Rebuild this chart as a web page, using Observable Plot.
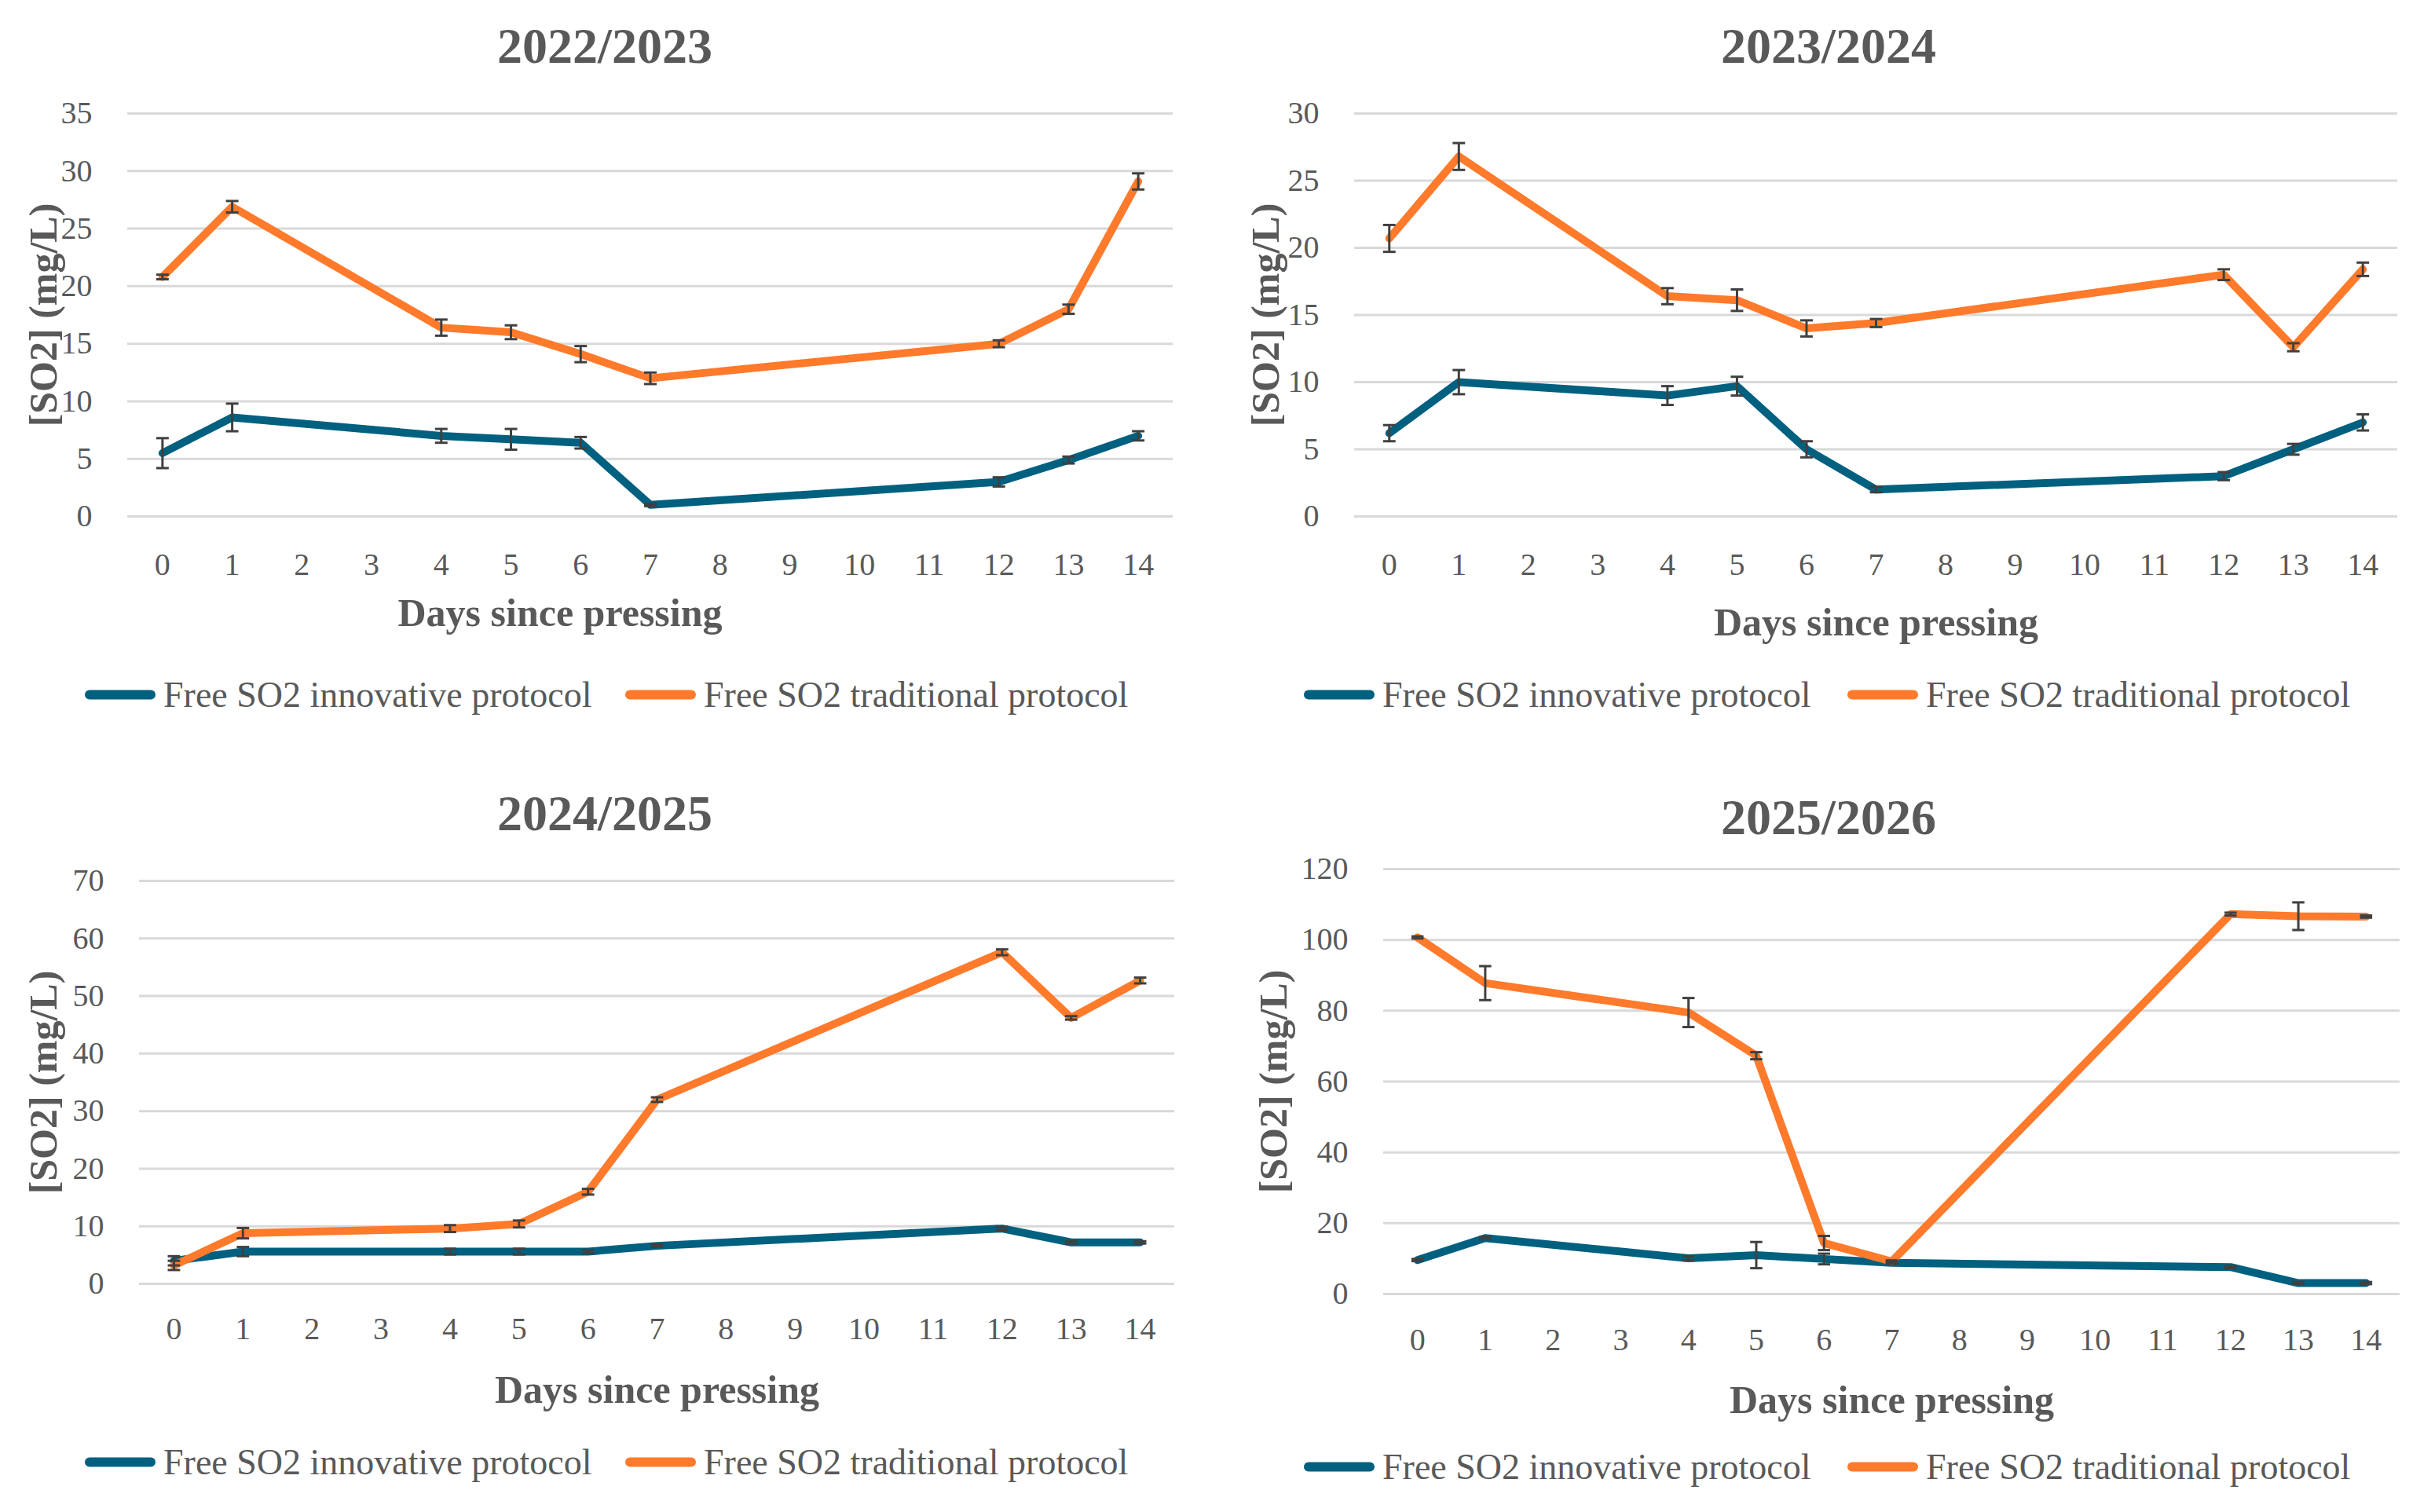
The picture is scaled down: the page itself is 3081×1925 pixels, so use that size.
<!DOCTYPE html>
<html>
<head>
<meta charset="utf-8">
<script src="https://cdn.jsdelivr.net/npm/d3@7"></script>
<script src="https://cdn.jsdelivr.net/npm/@observablehq/plot@0.6"></script>
<style>
  html, body { margin: 0; padding: 0; background: #fff; overflow: hidden; }
  #page { position: relative; width: 3081px; height: 1925px; background: #fff; font-family: "Liberation Serif", "DejaVu Serif", serif; color: #595959; }
  .panel { position: absolute; }
  .panel svg text { font-family: "Liberation Serif", "DejaVu Serif", serif; }
  .title { position: absolute; transform: translate(-50%, -50%); font-size: 64px; font-weight: bold; white-space: nowrap; color: #595959; }
  .leg { position: absolute; display: flex; align-items: center; transform: translateY(-50%); white-space: nowrap; font-size: 46px; color: #595959; }
  .sw { display: inline-block; width: 90px; height: 12px; border-radius: 6px; margin-right: 10px; }
</style>
</head>
<body>
<div id="page"></div>
<script>
// ---------- data ----------
const days = [0, 1, 4, 5, 6, 7, 12, 13, 14];
const dayTicks = [0, 1, 2, 3, 4, 5, 6, 7, 8, 9, 10, 11, 12, 13, 14];
const seasons = ["2022/2023", "2023/2024", "2024/2025", "2025/2026"];
const seriesNames = ["Free SO2 innovative protocol", "Free SO2 traditional protocol"];
const xLabel = "Days since pressing";
const yLabel = "[SO2] (mg/L)";

const yTicks2223 = [0, 5, 10, 15, 20, 25, 30, 35];
const yTicks2324 = [0, 5, 10, 15, 20, 25, 30];
const yTicks2425 = [0, 10, 20, 30, 40, 50, 60, 70];
const yTicks2526 = [0, 20, 40, 60, 80, 100, 120];

const inn2223    = [5.5, 8.6, 7.0, 6.7, 6.4, 1.0, 3.0, 4.9, 7.0];
const innErr2223 = [1.3, 1.2, 0.6, 0.9, 0.5, 0.1, 0.4, 0.3, 0.4];
const trad2223    = [20.8, 26.9, 16.4, 16.0, 14.1, 12.0, 15.0, 18.0, 29.1];
const tradErr2223 = [0.2, 0.5, 0.7, 0.6, 0.7, 0.5, 0.3, 0.4, 0.7];

const inn2324    = [6.2, 10.0, 9.0, 9.7, 5.0, 2.0, 3.0, 5.0, 7.0];
const innErr2324 = [0.6, 0.9, 0.7, 0.7, 0.6, 0.2, 0.3, 0.4, 0.6];
const trad2324    = [20.7, 26.8, 16.4, 16.1, 14.0, 14.4, 18.0, 12.6, 18.4];
const tradErr2324 = [1.0, 1.0, 0.6, 0.8, 0.6, 0.3, 0.4, 0.3, 0.5];

const inn2425    = [4.0, 5.6, 5.6, 5.6, 5.6, 6.6, 9.6, 7.2, 7.2];
const innErr2425 = [0.8, 0.8, 0.5, 0.5, 0.3, 0.2, 0.3, 0.2, 0.2];
const trad2425    = [3.2, 8.8, 9.6, 10.4, 16.0, 32.0, 57.6, 46.2, 52.7];
const tradErr2425 = [0.8, 0.9, 0.6, 0.6, 0.5, 0.4, 0.5, 0.3, 0.5];

const inn2526    = [9.6, 15.8, 10.1, 11.0, 9.9, 8.8, 7.6, 3.1, 3.1];
const innErr2526 = [0.3, 0.3, 0.6, 3.7, 1.5, 0.3, 0.3, 0.3, 0.3];
const trad2526    = [100.7, 87.8, 79.5, 67.3, 14.4, 9.2, 107.3, 106.7, 106.6];
const tradErr2526 = [0.3, 4.8, 4.1, 1.0, 2.0, 0.3, 0.4, 3.9, 0.3];

// ---------- style / layout ----------
const BLUE = "#00607f";
const ORANGE = "#ff7a2b";
const ERR = "#404040";
const TEXT = "#595959";
const FONT = "Liberation Serif";

const panels = [
  { title: seasons[0], inn: inn2223, innErr: innErr2223, trad: trad2223, tradErr: tradErr2223, yTicks: yTicks2223, yMax: 35,
    left: 0, top: 100, width: 1540, height: 720, mL: 162, mR: 47, mT: 44, mB: 163, xPad: 46, xLabDx: -115, xLabDy: 123, yLabDx: -107,
    titleX: 770, titleY: 59, legY: 884, leg1X: 108, leg2X: 796 },
  { title: seasons[1], inn: inn2324, innErr: innErr2324, trad: trad2324, tradErr: tradErr2324, yTicks: yTicks2324, yMax: 30,
    left: 1540, top: 100, width: 1541, height: 720, mL: 184, mR: 29, mT: 44, mB: 163, xPad: 46, xLabDx: 0, xLabDy: 135, yLabDx: -113,
    titleX: 2328, titleY: 59, legY: 884, leg1X: 1660, leg2X: 2352 },
  { title: seasons[2], inn: inn2425, innErr: innErr2425, trad: trad2425, tradErr: tradErr2425, yTicks: yTicks2425, yMax: 70,
    left: 0, top: 1080, width: 1540, height: 780, mL: 177, mR: 45, mT: 41, mB: 226, xPad: 42, xLabDx: 0, xLabDy: 135, yLabDx: -122,
    titleX: 770, titleY: 1036, legY: 1861, leg1X: 108, leg2X: 796 },
  { title: seasons[3], inn: inn2526, innErr: innErr2526, trad: trad2526, tradErr: tradErr2526, yTicks: yTicks2526, yMax: 120,
    left: 1540, top: 1060, width: 1541, height: 800, mL: 221, mR: 26, mT: 46, mB: 213, xPad: 43, xLabDx: 0, xLabDy: 135, yLabDx: -140,
    titleX: 2328, titleY: 1041, legY: 1867, leg1X: 1660, leg2X: 2352 }
];

const page = document.getElementById("page");

function rows(vals, errs, series) {
  return days.map((d, i) => ({ day: d, v: vals[i], e: errs[i], series }));
}

for (const p of panels) {
  const inn = rows(p.inn, p.innErr, seriesNames[0]);
  const trad = rows(p.trad, p.tradErr, seriesNames[1]);
  const all = inn.concat(trad);

  const chart = Plot.plot({
    width: p.width,
    height: p.height,
    marginLeft: p.mL, marginRight: p.mR, marginTop: p.mT, marginBottom: p.mB,
    style: { fontFamily: FONT, color: TEXT, background: "transparent", maxWidth: "none", overflow: "visible" },
    x: { type: "linear", domain: [-0.5, 14.5] },
    y: { domain: [0, p.yMax] },
    marks: [
      Plot.gridY({ ticks: p.yTicks, stroke: "#d9d9d9", strokeOpacity: 1, strokeWidth: 3 }),
      Plot.axisY({ ticks: p.yTicks, tickSize: 0, tickPadding: 45, fontSize: 40, fontFamily: FONT, label: null, fill: TEXT }),
      Plot.axisX({ ticks: dayTicks, tickSize: 0, tickPadding: p.xPad, fontSize: 40, fontFamily: FONT, label: null, fill: TEXT }),
      Plot.lineY(inn, { x: "day", y: "v", stroke: BLUE, strokeWidth: 10 }),
      Plot.lineY(trad, { x: "day", y: "v", stroke: ORANGE, strokeWidth: 10 }),
      Plot.ruleX(all, { x: "day", y1: d => d.v - d.e, y2: d => d.v + d.e, stroke: ERR, strokeWidth: 3 }),
      Plot.link(all, { x1: d => d.day - 0.09, x2: d => d.day + 0.09, y1: d => d.v + d.e, y2: d => d.v + d.e, stroke: ERR, strokeWidth: 3 }),
      Plot.link(all, { x1: d => d.day - 0.09, x2: d => d.day + 0.09, y1: d => d.v - d.e, y2: d => d.v - d.e, stroke: ERR, strokeWidth: 3 }),
      Plot.text([xLabel], { text: d => d, frameAnchor: "bottom", dx: p.xLabDx, dy: p.xLabDy, lineAnchor: "middle", textAnchor: "middle",
        fontSize: 50, fontWeight: "bold", fontFamily: FONT, fill: TEXT }),
      Plot.text([yLabel], { text: d => d, frameAnchor: "left", rotate: -90, dx: p.yLabDx, lineAnchor: "middle", textAnchor: "middle",
        fontSize: 50, fontWeight: "bold", fontFamily: FONT, fill: TEXT })
    ]
  });

  const div = document.createElement("div");
  div.className = "panel";
  div.style.left = p.left + "px";
  div.style.top = p.top + "px";
  div.style.width = p.width + "px";
  div.style.height = p.height + "px";
  div.appendChild(chart);
  page.appendChild(div);

  const t = document.createElement("div");
  t.className = "title";
  t.style.left = p.titleX + "px";
  t.style.top = p.titleY + "px";
  t.textContent = p.title;
  page.appendChild(t);

  [[p.leg1X, BLUE, seriesNames[0]], [p.leg2X, ORANGE, seriesNames[1]]].forEach(([x, c, name]) => {
    const l = document.createElement("div");
    l.className = "leg";
    l.style.left = x + "px";
    l.style.top = p.legY + "px";
    const sw = document.createElement("span");
    sw.className = "sw";
    sw.style.background = c;
    const tx = document.createElement("span");
    tx.textContent = name;
    l.appendChild(sw);
    l.appendChild(tx);
    page.appendChild(l);
  });
}
</script>
</body>
</html>
